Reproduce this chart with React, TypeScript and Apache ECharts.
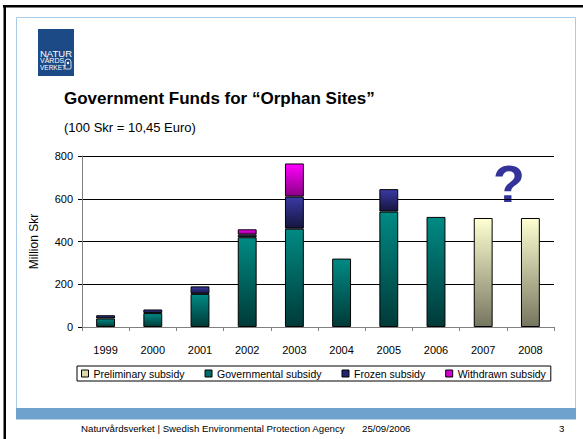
import React, { useEffect, useRef } from "react";
import * as echarts from "echarts";

const years = ["1999", "2000", "2001", "2002", "2003", "2004", "2005", "2006", "2007", "2008"];
const governmental = [40, 65, 155, 420, 460, 320, 540, 515, null, null];
const frozen = [15, 17, 35, 12, 150, null, 105, null, null, null];
const withdrawn = [null, null, null, 25, 155, null, null, null, null, null];
const preliminary = [null, null, null, null, null, null, null, null, 510, 510];
const yTicks = [0, 200, 400, 600, 800];

const FONT = "'Liberation Sans', Arial, sans-serif";

function grad(top: string, bottom: string) {
  return new echarts.graphic.LinearGradient(0, 0, 0, 1, [
    { offset: 0, color: top },
    { offset: 1, color: bottom },
  ]);
}

export default function App() {
  const ref = useRef<HTMLDivElement>(null);
  useEffect(() => {
    document.body.style.margin = "0";
    const chart = echarts.init(ref.current!, null, { renderer: "svg" });
    const barBase = {
      type: "bar",
      stack: "total",
      barWidth: "40%",
      itemStyle: { borderColor: "#000", borderWidth: 1 },
    };
    chart.setOption({
      animation: false,
      backgroundColor: "#fff",
      textStyle: { fontFamily: FONT },
      grid: { left: 82, top: 156, width: 472, height: 171, containLabel: false },
      xAxis: {
        type: "category",
        data: years,
        axisLine: { lineStyle: { color: "#808080", width: 1 } },
        axisTick: { show: true, alignWithLabel: false, length: 4, lineStyle: { color: "#808080" } },
        axisLabel: { color: "#000", fontSize: 11, margin: 17, fontFamily: FONT },
      },
      yAxis: {
        type: "value",
        min: yTicks[0],
        max: yTicks[yTicks.length - 1],
        interval: 200,
        name: "Million Skr",
        nameLocation: "middle",
        nameRotate: 90,
        nameGap: 42,
        nameTextStyle: { color: "#000", fontSize: 12, fontFamily: FONT },
        axisLine: { show: true, lineStyle: { color: "#808080", width: 1 } },
        axisTick: { show: true, length: 4, lineStyle: { color: "#000" } },
        axisLabel: { color: "#000", fontSize: 11, margin: 9, fontFamily: FONT },
        splitLine: { show: true, lineStyle: { color: "#000", width: 1 } },
      },
      legend: {
        left: 77,
        top: 366,
        itemWidth: 7,
        itemHeight: 7,
        itemGap: 20,
        borderColor: "#000",
        borderWidth: 1,
        padding: [2, 5, 2, 4],
        textStyle: { color: "#000", fontSize: 10.5, fontFamily: FONT },
        data: [
          { name: "Preliminary subsidy", icon: "rect", itemStyle: { color: "#d8d8a8", borderColor: "#000", borderWidth: 1 } },
          { name: "Governmental subsidy", icon: "rect", itemStyle: { color: "#006a66", borderColor: "#000", borderWidth: 1 } },
          { name: "Frozen subsidy", icon: "rect", itemStyle: { color: "#24246e", borderColor: "#000", borderWidth: 1 } },
          { name: "Withdrawn subsidy", icon: "rect", itemStyle: { color: "#d000d0", borderColor: "#000", borderWidth: 1 } },
        ],
      },
      series: [
        {
          ...barBase,
          name: "Governmental subsidy",
          data: governmental,
          itemStyle: { ...barBase.itemStyle, color: grad("#008a84", "#003a38") },
        },
        {
          ...barBase,
          name: "Frozen subsidy",
          data: frozen,
          itemStyle: { ...barBase.itemStyle, color: grad("#3a3aa4", "#15153e") },
        },
        {
          ...barBase,
          name: "Withdrawn subsidy",
          data: withdrawn,
          itemStyle: { ...barBase.itemStyle, color: grad("#ff00ff", "#8a0084") },
        },
        {
          ...barBase,
          name: "Preliminary subsidy",
          data: preliminary,
          itemStyle: { ...barBase.itemStyle, color: grad("#ffffd2", "#767660") },
        },
      ],
      graphic: [
        { type: "rect", silent: true, shape: { x: 3, y: 5, width: 580, height: 2.5 }, style: { fill: "#000" } },
        { type: "rect", silent: true, shape: { x: 3.5, y: 5, width: 2.5, height: 434 }, style: { fill: "#000" } },
        { type: "rect", silent: true, shape: { x: 16.5, y: 17.5, width: 559, height: 391 }, style: { fill: "none", stroke: "#a8cbe8", lineWidth: 1 } },
        { type: "rect", silent: true, shape: { x: 16, y: 408, width: 560, height: 11.5 }, style: { fill: "#6fa3cd" } },
        // logo
        { type: "rect", silent: true, shape: { x: 38, y: 29, width: 36, height: 47 }, style: { fill: "#1b4a86" } },
        { type: "text", silent: true, style: { text: "NATUR", x: 40, y: 53, font: `9.5px ${FONT}`, fill: "#fff", textAlign: "left", textVerticalAlign: "middle" } },
        { type: "text", silent: true, style: { text: "VÅRDS", x: 40, y: 60.5, font: `7px ${FONT}`, fill: "#fff", textAlign: "left", textVerticalAlign: "middle" } },
        { type: "text", silent: true, style: { text: "VERKET", x: 40, y: 67.5, font: `6.5px ${FONT}`, fill: "#fff", textAlign: "left", textVerticalAlign: "middle" } },
        { type: "rect", silent: true, shape: { x: 65, y: 59, width: 6, height: 10, r: [3, 3, 1, 1] }, style: { fill: "none", stroke: "#fff", lineWidth: 0.8 } },
        { type: "circle", silent: true, shape: { cx: 68, cy: 63, r: 1.2 }, style: { fill: "#fff" } },
        // titles
        { type: "text", silent: true, style: { text: "Government Funds for \u201cOrphan Sites\u201d", x: 64, y: 98, font: `bold 17px ${FONT}`, fill: "#000", textAlign: "left", textVerticalAlign: "middle" } },
        { type: "text", silent: true, style: { text: "(100 Skr = 10,45 Euro)", x: 64, y: 127, font: `13px ${FONT}`, fill: "#000", textAlign: "left", textVerticalAlign: "middle" } },
        // question mark
        { type: "text", silent: true, style: { text: "?", x: 509, y: 184, font: `bold 52px ${FONT}`, fill: "#333399", textAlign: "center", textVerticalAlign: "middle" } },
        // footer
        { type: "text", silent: true, style: { text: "Naturvårdsverket | Swedish Environmental Protection Agency", x: 81, y: 428, font: `9.7px ${FONT}`, fill: "#000", textAlign: "left", textVerticalAlign: "middle" } },
        { type: "text", silent: true, style: { text: "25/09/2006", x: 362, y: 428, font: `9.7px ${FONT}`, fill: "#000", textAlign: "left", textVerticalAlign: "middle" } },
        { type: "text", silent: true, style: { text: "3", x: 559, y: 428, font: `9.7px ${FONT}`, fill: "#000", textAlign: "left", textVerticalAlign: "middle" } },
      ],
    });
    return () => chart.dispose();
  }, []);
  return <div ref={ref} style={{ width: 583, height: 439 }} />;
}
